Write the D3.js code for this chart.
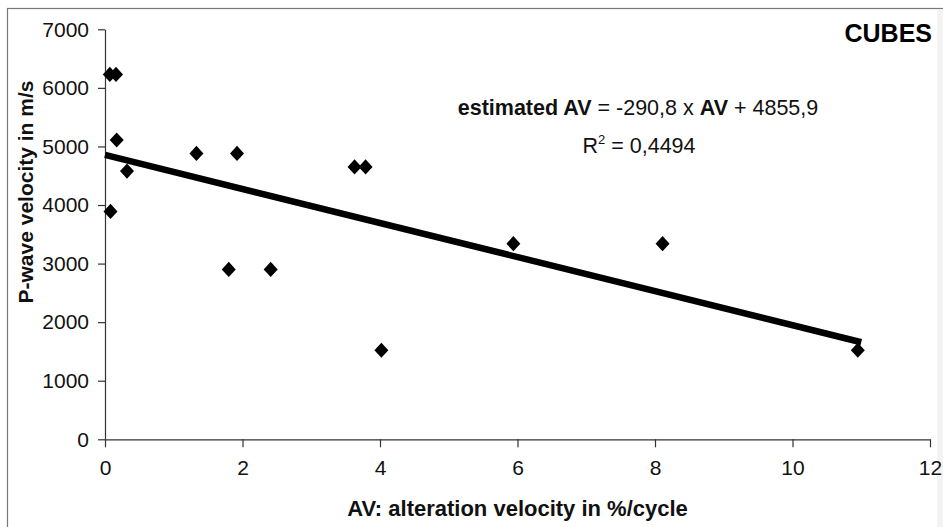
<!DOCTYPE html>
<html>
<head>
<meta charset="utf-8">
<script src="https://cdn.jsdelivr.net/npm/d3@7"></script>
<style>
  html, body { margin: 0; padding: 0; background: #fff; }
  svg { display: block; font-family: "Liberation Sans", Arial, sans-serif; }
</style>
</head>
<body>
<svg id="chart" width="943" height="527"></svg>
<script>
// ---- data ----
const avValues = [0.07, 0.16, 0.17, 0.32, 1.33, 1.92, 0.08, 1.80, 2.41, 3.63, 3.79, 4.02, 5.94, 8.11, 10.95];
const pwaveValues = [6230, 6230, 5110, 4580, 4880, 4880, 3890, 2900, 2900, 4650, 4650, 1520, 3340, 3340, 1520];
const xTicks = [0, 2, 4, 6, 8, 10, 12];
const yTicks = [0, 1000, 2000, 3000, 4000, 5000, 6000, 7000];
const trendSlope = -290.8;
const trendIntercept = 4855.9;
const trendRange = [0, 11.0];
const xTitle = "AV: alteration velocity in %/cycle";
const yTitle = "P-wave velocity in m/s";
const chartLabel = "CUBES";

// ---- layout ----
const svg = d3.select("#chart");
const W = 943, H = 527;
const plot = { left: 105, right: 930, top: 29.3, bottom: 439.3 };

// background frame
svg.append("rect").attr("x", 0).attr("y", 0).attr("width", W).attr("height", H).attr("fill", "#fff");
svg.append("rect").attr("x", 937).attr("y", 10).attr("width", 6).attr("height", H).attr("fill", "#f3f3f3");
svg.append("rect").attr("x", 7.5).attr("y", 8.5).attr("width", W + 10).attr("height", H + 10)
  .attr("fill", "none").attr("stroke", "#777").attr("stroke-width", 1.2);

const x = d3.scaleLinear().domain([0, 12]).range([plot.left, plot.right]);
const y = d3.scaleLinear().domain([0, 7000]).range([plot.bottom, plot.top]);

// axes
const xAxis = d3.axisBottom(x).tickValues(xTicks).tickSize(8).tickPadding(13).tickFormat(d3.format("d"));
const yAxis = d3.axisLeft(y).tickValues(yTicks).tickSize(7).tickPadding(9).tickFormat(d3.format("d"));

const gx = svg.append("g").attr("transform", `translate(0,${plot.bottom})`).call(xAxis);
const gy = svg.append("g").attr("transform", `translate(${plot.left},0)`).call(yAxis);
[gx, gy].forEach(g => {
  g.select(".domain").attr("stroke", "#333").attr("stroke-width", 1.2);
  g.selectAll(".tick line").attr("stroke", "#333").attr("stroke-width", 1.2);
  g.selectAll(".tick text").attr("fill", "#111").style("font-size", "21px")
    .style("font-family", "'Liberation Sans', Arial, sans-serif");
});
// remove domain path end ticks outer (d3 draws outer ticks by default with tickSizeOuter)
xAxis.tickSizeOuter(0); yAxis.tickSizeOuter(0);
gx.call(xAxis); gy.call(yAxis);
[gx, gy].forEach(g => {
  g.select(".domain").attr("stroke", "#333").attr("stroke-width", 1.2);
  g.selectAll(".tick line").attr("stroke", "#333").attr("stroke-width", 1.2);
  g.selectAll(".tick text").attr("fill", "#111").style("font-size", "21px")
    .style("font-family", "'Liberation Sans', Arial, sans-serif");
});
gx.selectAll(".tick text").attr("dy", "0.71em");

// trendline
const trendData = trendRange.map(v => [v, trendSlope * v + trendIntercept]);
svg.append("path")
  .datum(trendData)
  .attr("d", d3.line().x(d => x(d[0])).y(d => y(d[1])))
  .attr("stroke", "#000").attr("stroke-width", 6.5).attr("fill", "none");

// diamond markers
const diamond = {
  draw(ctx, size) {
    const w = Math.sqrt(size) * 0.7, h = Math.sqrt(size) * 0.76;
    ctx.moveTo(0, -h); ctx.lineTo(w, 0); ctx.lineTo(0, h); ctx.lineTo(-w, 0); ctx.closePath();
  }
};
const pts = avValues.map((v, i) => ({ av: v, pv: pwaveValues[i] }));
svg.append("g").selectAll("path").data(pts).join("path")
  .attr("transform", d => `translate(${x(d.av)},${y(d.pv)})`)
  .attr("d", d3.symbol().type(diamond).size(100))
  .attr("fill", "#000");

// axis titles
svg.append("text")
  .attr("x", (plot.left + plot.right) / 2).attr("y", 516)
  .attr("text-anchor", "middle")
  .style("font-size", "22px").style("font-weight", "bold").attr("fill", "#111")
  .text(xTitle);

svg.append("text")
  .attr("transform", `translate(33,192) rotate(-90)`)
  .attr("text-anchor", "middle")
  .style("font-size", "21px").style("font-weight", "bold").attr("fill", "#111")
  .text(yTitle);

// chart label
svg.append("text")
  .attr("x", 932).attr("y", 42)
  .attr("text-anchor", "end")
  .style("font-size", "25px").style("font-weight", "bold").attr("fill", "#000")
  .text(chartLabel);

// equation
const eq = svg.append("text")
  .attr("x", 638).attr("y", 115).attr("text-anchor", "middle")
  .style("font-size", "21.5px").attr("fill", "#111");
eq.append("tspan").style("font-weight", "bold").text("estimated AV");
eq.append("tspan").text(` = ${d3.format(".1f")(trendSlope).replace("−", "-").replace(".", ",")} x `);
eq.append("tspan").style("font-weight", "bold").text("AV");
eq.append("tspan").text(` + ${d3.format(".1f")(trendIntercept).replace(".", ",")}`);

const r2 = svg.append("text")
  .attr("x", 639).attr("y", 153).attr("text-anchor", "middle")
  .style("font-size", "21.5px").attr("fill", "#111");
r2.append("tspan").text("R");
r2.append("tspan").attr("dy", -9).style("font-size", "13px").text("2");
r2.append("tspan").attr("dy", 9).text(" = 0,4494");
</script>
</body>
</html>
